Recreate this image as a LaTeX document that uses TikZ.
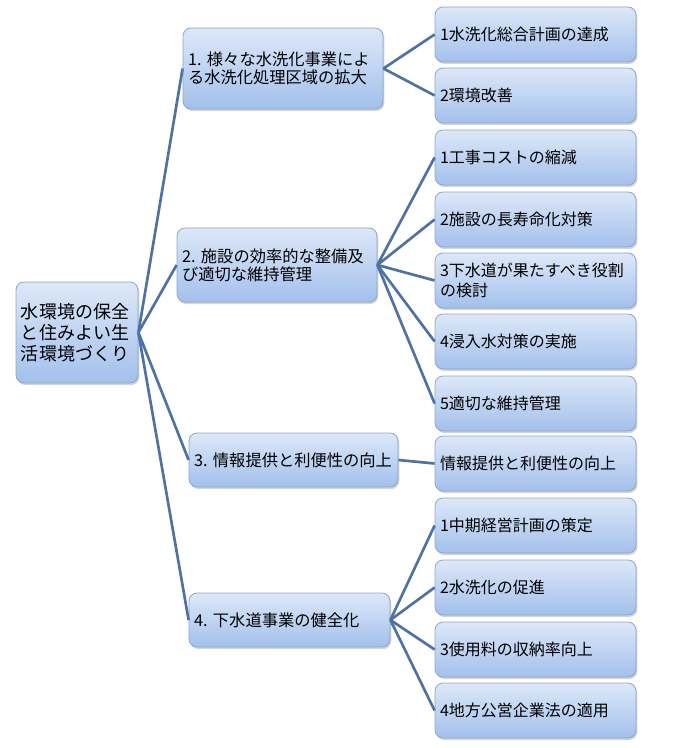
\documentclass[tikz,border=0pt]{standalone}
\usepackage{fontspec}
\setmainfont{Noto Sans CJK JP}
\usetikzlibrary{shadows}
\definecolor{boxtop}{HTML}{DDE8F8}
\definecolor{boxbot}{HTML}{A3C0EC}
\definecolor{boxline}{HTML}{8DA6C9}
\definecolor{linkblue}{HTML}{4D72A3}
\tikzset{
	box/.style={draw=boxline, line width=0.6pt, rounded corners=6pt, top color=boxtop, bottom color=boxbot,
		align=left, inner xsep=3.75pt, inner ysep=2pt,
		drop shadow={shadow xshift=1pt, shadow yshift=-1.5pt, opacity=0.35}},
	goalbox/.style={box, text width=84pt, minimum height=75.75pt, font=\fontsize{13.5}{16}\selectfont},
	policybox/.style={box, font=\fontsize{12.2}{13.5}\selectfont},
	itembox/.style={box, text width=143.25pt, minimum height=41.25pt, font=\fontsize{12}{15}\selectfont},
	link/.style={draw=linkblue, line width=2pt}
}
\begin{document}
\begin{tikzpicture}[x=0.75pt,y=-0.75pt]
	\useasboundingbox (0,0) rectangle (682,748);
	% goal
	\node[goalbox] (goal) at (77,332.5) {水環境の保全\\と住みよい生\\活環境づくり};
	% policies
	\node[policybox, text width=142.5pt, minimum height=60.75pt] (p1) at (283,68.5) {1.~様々な水洗化事業によ\\る水洗化処理区域の拡大};
	\node[policybox, text width=142.5pt, minimum height=55.5pt] (p2) at (277,265) {2.~施設の効率的な整備及\\び適切な維持管理};
	\node[policybox, text width=149.25pt, minimum height=40.5pt] (p3) at (293.5,460) {3.~情報提供と利便性の向上};
	\node[policybox, text width=143.25pt, minimum height=40.5pt] (p4) at (289.5,620) {4.~下水道事業の健全化};
	% measures
	\node[itembox] (p1a) at (535.5,34.5) {1水洗化総合計画の達成};
	\node[itembox] (p1b) at (535.5,95.5) {2環境改善};
	\node[itembox] (p2a) at (535.5,157.5) {1工事コストの縮減};
	\node[itembox] (p2b) at (535.5,219.5) {2施設の長寿命化対策};
	\node[itembox] (p2c) at (535.5,280.5) {3下水道が果たすべき役割\\の検討};
	\node[itembox] (p2d) at (535.5,341.5) {4浸入水対策の実施};
	\node[itembox] (p2e) at (535.5,403.5) {5適切な維持管理};
	\node[itembox] (p3a) at (535.5,463.5) {情報提供と利便性の向上};
	\node[itembox] (p4a) at (535.5,525.5) {1中期経営計画の策定};
	\node[itembox] (p4b) at (535.5,587.5) {2水洗化の促進};
	\node[itembox] (p4c) at (535.5,649.5) {3使用料の収納率向上};
	\node[itembox] (p4d) at (535.5,710.5) {4地方公営企業法の適用};
	% links
	\draw[link] (goal.east) -- (p1.west);
	\draw[link] (goal.east) -- (p2.west);
	\draw[link] (goal.east) -- (p3.west);
	\draw[link] (goal.east) -- (p4.west);
	\draw[link] (p1.east) -- (p1a.west);
	\draw[link] (p1.east) -- (p1b.west);
	\draw[link] (p2.east) -- (p2a.west);
	\draw[link] (p2.east) -- (p2b.west);
	\draw[link] (p2.east) -- (p2c.west);
	\draw[link] (p2.east) -- (p2d.west);
	\draw[link] (p2.east) -- (p2e.west);
	\draw[link] (p3.east) -- (p3a.west);
	\draw[link] (p4.east) -- (p4a.west);
	\draw[link] (p4.east) -- (p4b.west);
	\draw[link] (p4.east) -- (p4c.west);
	\draw[link] (p4.east) -- (p4d.west);
\end{tikzpicture}
\end{document}
